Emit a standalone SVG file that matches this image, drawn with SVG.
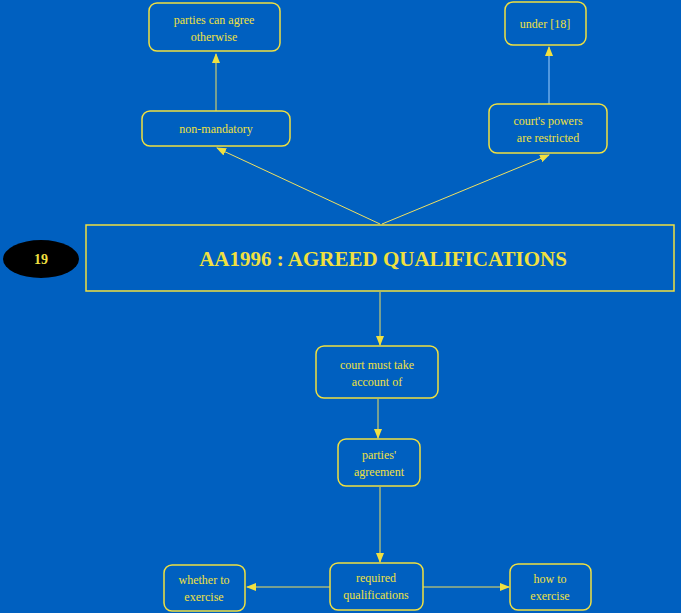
<svg xmlns="http://www.w3.org/2000/svg" width="681" height="613" viewBox="0 0 681 613">
<style>
.n{fill:none;stroke:#f0e040;stroke-width:1.5}
.t{font-family:"Liberation Serif",serif;font-size:12px;fill:#f0e040;text-anchor:middle}
.c line{stroke:#f0e060;stroke-width:1}
</style>
<defs><marker id="a" markerWidth="10" markerHeight="8" refX="9" refY="4" orient="auto" markerUnits="userSpaceOnUse"><path d="M0,0L10,4L0,8z" fill="#f0e040"/></marker></defs>
<rect width="681" height="613" fill="#0060c0"/>
<g class="c" marker-end="url(#a)">
<line x1="380" y1="224" x2="217" y2="148" marker-end="url(#a)"/>
<line x1="382" y1="224" x2="549" y2="155" marker-end="url(#a)"/>
<line x1="216" y1="111" x2="216" y2="54" marker-end="url(#a)"/>
<line x1="549" y1="104" x2="549" y2="47" style="stroke:#a0d0ff" marker-end="url(#a)"/>
<line x1="380" y1="292" x2="380" y2="345" marker-end="url(#a)"/>
<line x1="378" y1="399" x2="378" y2="438" marker-end="url(#a)"/>
<line x1="380" y1="487" x2="380" y2="562" marker-end="url(#a)"/>
<line x1="330" y1="587" x2="247" y2="587" marker-end="url(#a)"/>
<line x1="423" y1="587" x2="509" y2="587" marker-end="url(#a)"/>
</g>
<g id="n1"><rect class="n" x="149" y="3" width="131" height="48" rx="8"/><text class="t" x="214" y="24">parties can agree</text><text class="t" x="214" y="41">otherwise</text></g>
<g id="n2"><rect class="n" x="142" y="111" width="148" height="35" rx="8"/><text class="t" x="216" y="133">non-mandatory</text></g>
<g id="n3"><rect class="n" x="505" y="2" width="81" height="43" rx="8"/><text class="t" x="545" y="28">under [18]</text></g>
<g id="n4"><rect class="n" x="489" y="104" width="118" height="49" rx="8"/><text class="t" x="548" y="125">court's powers</text><text class="t" x="548" y="142">are restricted</text></g>
<g id="main"><rect class="n" x="86" y="225" width="588" height="66"/><text x="383" y="266" style="font-family:'Liberation Serif',serif;font-size:21px;font-weight:bold;fill:#f0e040;text-anchor:middle">AA1996 : AGREED QUALIFICATIONS</text></g>
<g id="num"><ellipse cx="41" cy="259" rx="38" ry="19" fill="#000"/><text x="41" y="264" style="font-family:'Liberation Serif',serif;font-size:14px;font-weight:bold;fill:#f0e040;text-anchor:middle">19</text></g>
<g id="n5"><rect class="n" x="316" y="346" width="122" height="52" rx="8"/><text class="t" x="377" y="369">court must take</text><text class="t" x="377" y="386">account of</text></g>
<g id="n6"><rect class="n" x="338" y="439" width="82" height="47" rx="8"/><text class="t" x="379" y="459">parties'</text><text class="t" x="379" y="476">agreement</text></g>
<g id="n7"><rect class="n" x="330" y="563" width="93" height="47" rx="8"/><text class="t" x="376" y="582">required</text><text class="t" x="376" y="599">qualifications</text></g>
<g id="n8"><rect class="n" x="164" y="565" width="81" height="46" rx="8"/><text class="t" x="204" y="584">whether to</text><text class="t" x="204" y="601">exercise</text></g>
<g id="n9"><rect class="n" x="510" y="564" width="81" height="46" rx="8"/><text class="t" x="550" y="583">how to</text><text class="t" x="550" y="600">exercise</text></g>
</svg>
